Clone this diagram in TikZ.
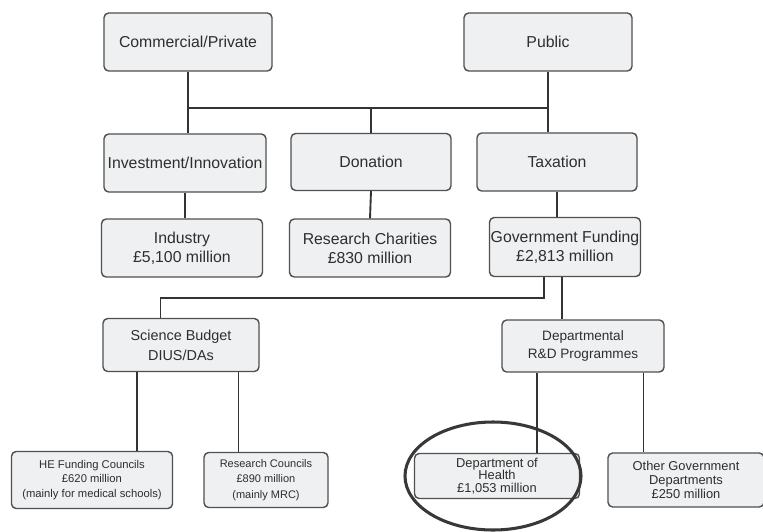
\documentclass[tikz,border=0pt]{standalone}
\usepackage{fontspec}
\setmainfont{Liberation Sans}
\usetikzlibrary{calc,shapes.geometric}

\definecolor{boxfill}{HTML}{EEF0F1}
\definecolor{boxline}{HTML}{505050}
\definecolor{linkgray}{HTML}{333333}
\definecolor{inkgray}{HTML}{2E2E2E}

\begin{document}
\begin{tikzpicture}[
  x=0.03cm,y=-0.03cm,
  fund/.style={
    draw=boxline,
    line width=1.2pt,
    rounded corners=4pt,
    fill=boxfill,
    align=center,
    text=inkgray,
    inner sep=1pt,
    font=\fontsize{13.5}{16}\selectfont
  },
  branch/.style={
    fund,
    font=\fontsize{12.3}{17}\selectfont
  },
  leaf/.style={
    fund,
    font=\fontsize{11}{12}\selectfont
  },
  small leaf/.style={
    fund,
    font=\fontsize{9.6}{12.6}\selectfont
  },
  link/.style={draw=linkgray,line width=1.6pt},
  highlight/.style={
    ellipse,
    draw=black!78,
    line width=2.6pt,
    inner sep=0pt
  }
]
  \useasboundingbox (0,0) rectangle (763,531);

  % sources
  \node[fund,minimum width=5.04cm,minimum height=1.74cm] (commercial) at (188,42) {Commercial/Private};
  \node[fund,minimum width=5.04cm,minimum height=1.74cm] (public) at (548,42) {Public};

  \node[fund,minimum width=4.86cm,minimum height=1.74cm] (investment) at (185,163) {Investment/Innovation};
  \node[fund,minimum width=4.80cm,minimum height=1.71cm] (donation) at (371,162) {Donation};
  \node[fund,minimum width=4.80cm,minimum height=1.74cm] (taxation) at (557,162) {Taxation};

  \node[fund,minimum width=4.83cm,minimum height=1.74cm] (industry) at (182,248) {Industry\\£5,100 million};
  \node[fund,minimum width=4.83cm,minimum height=1.74cm] (charities) at (370,248) {Research Charities\\£830 million};
  \node[fund,minimum width=4.53cm,minimum height=1.77cm] (govfund) at (565,247) {Government Funding\\£2,813 million};

  % government split
  \node[branch,minimum width=4.68cm,minimum height=1.59cm] (science) at (181,345) {Science Budget\\DIUS/DAs};
  \node[branch,font=\fontsize{11.6}{16}\selectfont,minimum width=4.86cm,minimum height=1.56cm] (departmental) at (583,346) {Departmental\\R\&D Programmes};

  \node[small leaf,minimum width=4.83cm,minimum height=1.71cm] (hefund) at (92,480) {HE Funding Councils\\£620 million\\(mainly for medical schools)};
  \node[small leaf,font=\fontsize{9.4}{13}\selectfont,minimum width=3.72cm,minimum height=1.65cm] (rescouncils) at (266,480) {Research Councils\\£890 million\\(mainly MRC)};
  \node[leaf,font=\fontsize{11}{10.8}\selectfont,minimum width=4.95cm,minimum height=1.35cm] (health) at (497,476) {Department of\\Health\\£1,053 million};
  \node[leaf,minimum width=4.68cm,minimum height=1.62cm] (other) at (686,480) {Other Government\\Departments\\£250 million};

  \node[highlight,minimum width=5.28cm,minimum height=3.24cm] (ring) at (493,476) {};

  % connectors
  \coordinate (topbar) at (0,108);
  \coordinate (split) at (544,298);
  \coordinate (gf2) at ($(govfund.south west)!.48!(govfund.south east)$);
  \coordinate (sb0) at ($(science.north west)!.37!(science.north east)$);
  \coordinate (sb1) at ($(science.south west)!.22!(science.south east)$);
  \coordinate (sb2) at ($(science.south west)!.865!(science.south east)$);
  \coordinate (dp1) at ($(departmental.south west)!.216!(departmental.south east)$);
  \coordinate (dp2) at ($(departmental.south west)!.87!(departmental.south east)$);

  \draw[link] (commercial.south) |- (public.south |- topbar) -- (public.south);
  \draw[link] (commercial.south |- topbar) -- (commercial.south |- investment.north);
  \draw[link] (donation.north |- topbar) -- (donation.north);
  \draw[link] (public.south |- topbar) -- (public.south |- taxation.north);

  \draw[link] (investment.south) -- (investment.south |- industry.north);
  \draw[link] (donation.south) -- (charities.north);
  \draw[link] (taxation.south) -- (taxation.south |- govfund.north);

  \draw[link] (split |- govfund.south) -- (split) -| (sb0);
  \draw[link] (gf2) -- (gf2 |- departmental.north);

  \draw[link] (sb1) -- (sb1 |- hefund.north);
  \draw[link] (sb2) -- (sb2 |- rescouncils.north);
  \draw[link] (dp1) -- (dp1 |- health.north);
  \draw[link] (dp2) -- (dp2 |- other.north);
\end{tikzpicture}
\end{document}
